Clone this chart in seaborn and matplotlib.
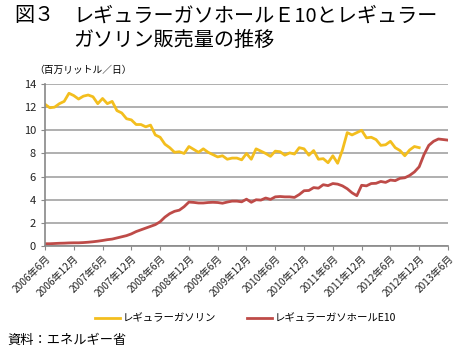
import numpy as np
import pandas as pd
import matplotlib
matplotlib.use("Agg")
import matplotlib.pyplot as plt
import seaborn as sns

tick_labels = ["2006年6月", "2006年12月", "2007年6月", "2007年12月", "2008年6月",
               "2008年12月", "2009年6月", "2009年12月", "2010年6月", "2010年12月",
               "2011年6月", "2011年12月", "2012年6月", "2012年12月", "2013年6月"]

# monthly, 2006-06 .. 2012-12 (million litres / day)
regular_gasoline = [
    12.25, 11.95, 12.0, 12.3, 12.5, 13.2, 13.0, 12.7, 12.95, 13.05, 12.9, 12.3,
    12.75, 12.3, 12.5, 11.7, 11.5, 11.0, 10.9, 10.5, 10.5, 10.3, 10.45, 9.6,
    9.4, 8.8, 8.5, 8.1, 8.15, 8.0, 8.6, 8.35, 8.1, 8.4, 8.1, 7.9,
    7.7, 7.8, 7.5, 7.6, 7.6, 7.45, 8.0, 7.5, 8.4, 8.2, 8.0, 7.75,
    8.2, 8.15, 7.85, 8.05, 7.95, 8.5, 8.4, 7.85, 8.25, 7.5, 7.55, 7.2,
    7.8, 7.15, 8.3, 9.8, 9.6, 9.8, 10.0, 9.35, 9.4, 9.2, 8.7, 8.75,
    9.05, 8.5, 8.25, 7.8, 8.3, 8.6, 8.5]

# monthly, 2006-06 .. 2013-06
regular_gasohol_e10 = [
    0.2, 0.2, 0.22, 0.24, 0.25, 0.27, 0.28, 0.28, 0.3, 0.33, 0.37, 0.42,
    0.48, 0.55, 0.6, 0.7, 0.8, 0.9, 1.05, 1.25, 1.4, 1.55, 1.7, 1.85,
    2.1, 2.5, 2.8, 3.0, 3.1, 3.4, 3.8, 3.77, 3.72, 3.72, 3.76, 3.78,
    3.76, 3.7, 3.8, 3.88, 3.88, 3.82, 4.05, 3.78, 4.0, 3.97, 4.15, 4.03,
    4.25, 4.28, 4.25, 4.25, 4.2, 4.45, 4.78, 4.8, 5.05, 5.0, 5.3, 5.22,
    5.4, 5.35, 5.2, 4.95, 4.6, 4.35, 5.25, 5.2, 5.4, 5.42, 5.58, 5.5,
    5.7, 5.65, 5.85, 5.9, 6.1, 6.4, 6.85, 7.9, 8.7, 9.05, 9.25, 9.2, 9.15]

series_names = ["レギュラーガソリン", "レギュラーガソホールE10"]

plt.rcParams['font.family'] = ['Noto Sans CJK JP', 'DejaVu Sans']

df = pd.concat([
    pd.DataFrame({"month": np.arange(len(regular_gasoline)),
                  "value": regular_gasoline, "series": series_names[0]}),
    pd.DataFrame({"month": np.arange(len(regular_gasohol_e10)),
                  "value": regular_gasohol_e10, "series": series_names[1]}),
])

fig = plt.figure(figsize=(4.59, 3.53), dpi=100)
ax = fig.add_axes([0.098, 0.303, 0.878, 0.459])

palette = {series_names[0]: "#F3BE1E", series_names[1]: "#BE4B48"}
sns.lineplot(data=df, x="month", y="value", hue="series", palette=palette,
             linewidth=2.0, ax=ax, legend=False)

ax.set_xlim(0, 84)
ax.set_ylim(0, 14)
ax.set_yticks(np.arange(0, 15, 2))
ax.set_xticks(np.arange(0, 85, 6))
ax.set_xticklabels(tick_labels, rotation=45, ha="right", rotation_mode="anchor",
                   fontsize=7.3, color="#222222")
ax.tick_params(axis="y", labelsize=8, colors="#222222", length=3, color="#888888")
ax.tick_params(axis="x", length=3, color="#888888", pad=2)
ax.set_xlabel("")
ax.set_ylabel("")
ax.grid(axis="y", color="#9a9a9a", linewidth=1.1)
ax.set_axisbelow(True)
for s in ["top", "right"]:
    ax.spines[s].set_visible(False)
for s in ["left", "bottom"]:
    ax.spines[s].set_color("#888888")
    ax.spines[s].set_linewidth(1.2)

fig.text(0.030, 0.955, "図３", fontsize=14.5, va="center", ha="left")
fig.text(0.160, 0.955, "レギュラーガソホールＥ10とレギュラー", fontsize=14.5, va="center", ha="left")
fig.text(0.160, 0.885, "ガソリン販売量の推移", fontsize=14.5, va="center", ha="left")
fig.text(0.075, 0.802, "（百万リットル／日）", fontsize=7, va="center", ha="left")

from matplotlib.lines import Line2D
handles = [Line2D([0], [0], color=palette[n], lw=2.0) for n in series_names]
fig.legend(handles, series_names, loc="center", bbox_to_anchor=(0.535, 0.098),
           ncol=2, frameon=False, fontsize=7.5, handlelength=2.4, handletextpad=0.2,
           columnspacing=3.0)

fig.text(0.017, 0.035, "資料：エネルギー省", fontsize=9.5, va="center", ha="left")

fig.savefig("out.png", dpi=100)
